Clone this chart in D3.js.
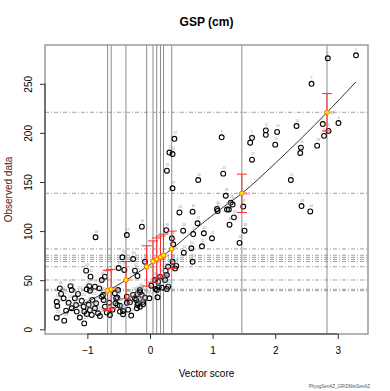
<!DOCTYPE html>
<html><head><meta charset="utf-8">
<script src="https://cdn.jsdelivr.net/npm/d3@7"></script>
<style>body{margin:0;background:#fff}svg{display:block}text{font-family:"Liberation Sans",Arial,sans-serif}</style>
</head><body><svg id="c" width="390" height="391"></svg>
<script>
const title = "GSP (cm)";
const xLabel = "Vector score";
const yLabel = "Observed data";
const footnote = "PhysgSenAZ_GRIDMetSenAZ";
const xTicks = [-1, 0, 1, 2, 3];
const yTicks = [0, 50, 100, 150, 200, 250];

// observed points: vector score, observed value
const obsX = [2.84,3.29,2.58,3.01,2.76,2.85,2.78,1.145,1.63,1.60,1.85,1.85,2.03,2.34,2.0,2.41,2.40,2.67,1.63,1.17,2.25,0.39,0.31,0.36,0.27,0.77,0.36,
1.21,1.29,1.32,1.07,1.08,1.23,1.26,1.34,1.27,1.49,1.51,1.43,0.86,0.99,0.83,2.42,2.56,
0.47,0.68,0.76,0.26,0.53,0.69,0.66,0.54,0.68,0.35,0.37,-0.13,-0.37,-0.87,-0.44,-0.27,-0.50,-0.24,-1.02,-0.95,-0.72,
-1.44,-1.27,-1.25,-0.97,-0.96,-1.01,-0.81,-0.51,-0.16,-0.20,-0.13,0.12,0.29,0.14,0.40,0.29,0.25,
0.36,0.42,-0.08,-0.41,-0.20,0.08,0.13,0.24,0.16,0.27,-0.77,-0.88,-0.75,-0.56,-0.52,-0.55,-0.48,-0.43,-0.24,-0.16,-0.08,-0.19,-0.11,-0.21,-0.32,-0.37,0.02,0.09,0.19,0.27,
-1.49,-1.48,-1.49,-1.37,-1.38,-1.30,-1.34,-1.25,-1.20,-1.18,-1.17,-1.09,-1.06,-1.05,-1.05,-1.01,-0.96,-0.93,-0.88,-0.86,-0.83,-0.80,-0.77,-0.74,-0.72,-0.69,-0.64,-0.54,-0.52,-0.48,-0.43,-0.37,-0.27,-0.22,-0.20,-0.16,-0.11,-0.01,0.11,
-1.42,-1.15,-1.12,-0.92,-0.98,-0.65,-0.60,-0.35,-0.30];
const obsY = [276,279,250,210,209,202,197,195.5,195,190,202.6,198,201,207,188,185,179.5,187,172.7,158.5,152,194,180,178.5,161.5,152,143.6,
136,129,127,122.5,120.5,122,122,114,106.5,125,100.4,88,97.8,92.7,84.5,125.5,120,
119,119.8,108,101,100.4,97,82.5,78,68.8,92.7,86.6,104.5,96,93.7,73.3,71.6,62.4,59.7,59.7,53.6,53.6,
41.7,44,40,44,39.3,40.7,41.7,40,40,36,35,32.6,43.4,42.8,62,63.7,59.7,
68.8,64.5,68.8,60.4,54.3,50.2,48.5,50.2,53.6,55.3,50.2,43.4,35,36.7,32.2,26.5,24,18.6,31.6,37.7,32.2,26.5,25.5,21.4,27.5,33.2,44.4,41,42.4,41,
28,23.7,11.8,8.8,31.6,27,19,21.4,31.6,24.7,18,29,23,18,6,15.6,19.6,14.6,21.4,26.5,16.3,13.5,33.2,29.8,23,17,14.6,31.6,24.7,18,15.3,27,35,29.8,24.7,23,28,31.6,40,
36,36,12,30,25,27,20,20,14];

// fitted vector-score classes
const fitX = [-0.677,-0.62,-0.384,-0.053,0.048,0.107,0.168,0.216,0.347,1.467,2.827];
const fitY = [39.3,40.7,50.2,63.7,69.0,71.3,73.3,75.4,81.8,138.5,221];
const errLo = [19,21,31,44,48,51,53,55,62,119,202];
const errHi = [60,61,69,85,90,93,95,97,100,158,240];

// smooth fitted curve
const curveX = [-1.49,-0.67,-0.38,-0.05,0.35,0.80,1.12,1.47,2.0,2.83,3.29];
const curveY = [12.8,39.3,50.2,63.7,81.8,106,122,138.5,169,221,252];

const svg = d3.select("#c");
const L = 45, R = 368, T = 45, B = 334;
const x = d3.scaleLinear().domain([-1.677, 3.482]).range([L, R]);
const y = d3.scaleLinear().domain([-4.8, 289.5]).range([B, T]);

// horizontal dash-dot reference lines
svg.append("g").selectAll("line").data(fitY).join("line")
  .attr("x1", L).attr("x2", R).attr("y1", d => y(d)).attr("y2", d => y(d))
  .attr("stroke", "#a0a0a0").attr("stroke-width", 1).attr("stroke-dasharray", "4,2,1,2");

// vertical reference lines
svg.append("g").selectAll("line").data(fitX).join("line")
  .attr("x1", d => x(d)).attr("x2", d => x(d)).attr("y1", T).attr("y2", B)
  .attr("stroke", "#8c8c8c").attr("stroke-width", 1);

// fitted curve
svg.append("path").datum(curveX.map((d, i) => [d, curveY[i]]))
  .attr("d", d3.line().x(d => x(d[0])).y(d => y(d[1])).curve(d3.curveMonotoneX))
  .attr("fill", "none").attr("stroke", "#333").attr("stroke-width", 1);

// observed points
const pts = obsX.map((d, i) => ({x: d, y: obsY[i], id: i + 1}));
svg.append("g").selectAll("circle").data(pts).join("circle")
  .attr("cx", d => x(d.x)).attr("cy", d => y(d.y)).attr("r", 2.4)
  .attr("fill", "none").attr("stroke", "#000").attr("stroke-width", 1.1);
svg.append("g").selectAll("text").data(pts).join("text")
  .attr("x", d => x(d.x) - 1).attr("y", d => y(d.y) - 4.5)
  .attr("font-size", 3.2).attr("fill", "#8a96a8").text(d => d.id);

// error bars
const fits = fitX.map((d, i) => ({x: d, y: fitY[i], lo: errLo[i], hi: errHi[i], id: i + 1}));
const eg = svg.append("g").attr("stroke", "#ff2a2a").attr("stroke-width", 1);
eg.selectAll(".v").data(fits).join("line")
  .attr("x1", d => x(d.x)).attr("x2", d => x(d.x)).attr("y1", d => y(d.lo)).attr("y2", d => y(d.hi));
eg.selectAll(".h").data(fits).join("line")
  .attr("x1", d => x(d.x) - 5).attr("x2", d => x(d.x) + 5).attr("y1", d => y(d.hi)).attr("y2", d => y(d.hi));
eg.selectAll(".l").data(fits).join("line")
  .attr("x1", d => x(d.x) - 5).attr("x2", d => x(d.x) + 5).attr("y1", d => y(d.lo)).attr("y2", d => y(d.lo));
svg.append("g").selectAll("circle").data(fits).join("circle")
  .attr("cx", d => x(d.x)).attr("cy", d => y(d.y)).attr("r", 2.3)
  .attr("fill", "#ffee00").attr("stroke", "#ff6a00").attr("stroke-width", 1);
svg.append("g").selectAll("text").data(fits).join("text")
  .attr("x", d => x(d.x) + 3.5).attr("y", d => y(d.y) + 1.5)
  .attr("font-size", 4).attr("fill", "#ff2a2a").text(d => d.id);

// box
svg.append("rect").attr("x", L).attr("y", T).attr("width", R - L).attr("height", B - T)
  .attr("fill", "none").attr("stroke", "#9a9a9a").attr("stroke-width", 1.5);

// axes
const xa = svg.append("g").attr("transform", `translate(0,${B})`)
  .call(d3.axisBottom(x).tickValues(xTicks).tickSize(5).tickPadding(8).tickFormat(d => d < 0 ? "\u2212" + Math.abs(d) : d));
xa.select(".domain").attr("d", `M${x(-1)},0H${x(3)}`).attr("stroke", "#333");
xa.selectAll("text").attr("font-size", 10).attr("fill", "#000").attr("font-family", "Liberation Sans, Arial, sans-serif");
xa.selectAll(".tick line").attr("stroke", "#333");

const ya = svg.append("g").attr("transform", `translate(${L},0)`)
  .call(d3.axisLeft(y).tickValues(yTicks).tickSize(5).tickFormat(d => d));
ya.select(".domain").attr("d", `M0,${y(0)}V${y(250)}`).attr("stroke", "#333");
ya.selectAll(".tick line").attr("stroke", "#333");
ya.selectAll("text").attr("font-size", 10).attr("fill", "#000").attr("font-family", "Liberation Sans, Arial, sans-serif")
  .attr("x", 0).attr("dy", 0).attr("text-anchor", "middle")
  .attr("transform", "translate(-13,0) rotate(-90)");

// titles
svg.append("text").attr("x", (L + R) / 2).attr("y", 26).attr("text-anchor", "middle")
  .attr("font-size", 12).attr("font-weight", "bold").text(title);
svg.append("text").attr("x", (L + R) / 2).attr("y", 377).attr("text-anchor", "middle")
  .attr("font-size", 10).text(xLabel);
svg.append("text").attr("transform", `translate(12,${(T + B) / 2}) rotate(-90)`).attr("text-anchor", "middle")
  .attr("font-size", 10).attr("fill", "#4a2020").text(yLabel);
svg.append("text").attr("x", 370).attr("y", 388).attr("text-anchor", "end")
  .attr("font-size", 4.5).attr("fill", "#556").text(footnote);
</script></body></html>
